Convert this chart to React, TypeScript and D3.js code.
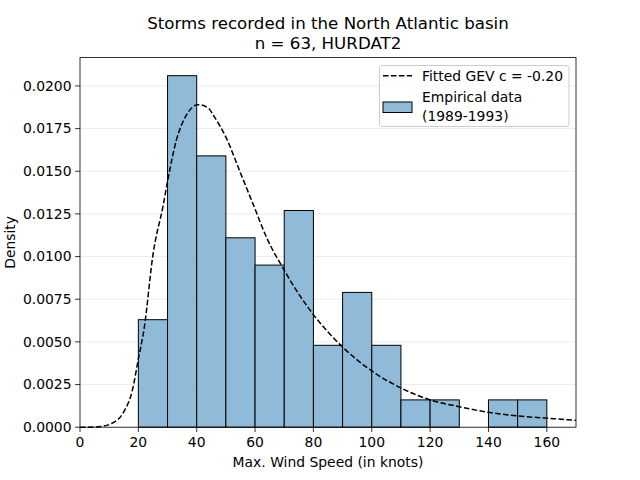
import React from 'react';
import * as d3 from 'd3';

// histogram bins (left edges, knots) and density per bin
const binStarts = [20, 30, 40, 50, 60, 70, 80, 90, 100, 110, 120, 130, 140, 150];
const binWidth = 10;
const densities = [0.0063, 0.0206, 0.0159, 0.0111, 0.0095, 0.0127, 0.0048, 0.0079, 0.0048, 0.0016, 0.0016, 0, 0.0016, 0.0016];

// fitted GEV curve
const curveX = [0, 5, 7, 11, 15, 18, 20, 22, 25, 28.5, 30, 33, 36.5, 40.5, 44, 46, 50, 55, 59.5, 64, 70, 75, 80, 90, 100, 110, 120, 130, 140, 150, 160, 170];
const curveY = [0, 0.00001, 0.00004, 0.00023, 0.0009, 0.0022, 0.004, 0.0058, 0.0101, 0.013, 0.0144, 0.0168, 0.0183, 0.0189, 0.0187, 0.0182, 0.017, 0.0149, 0.013, 0.0111, 0.0092, 0.0078, 0.0066, 0.0047, 0.0033, 0.0023, 0.0016, 0.0012, 0.00087, 0.00066, 0.00053, 0.0004];

const xTicks = [0, 20, 40, 60, 80, 100, 120, 140, 160];
const yTicks = [0, 0.0025, 0.005, 0.0075, 0.01, 0.0125, 0.015, 0.0175, 0.02];

const titleLines = ['Storms recorded in the North Atlantic basin', 'n = 63, HURDAT2'];
const legendLabels = ['Fitted GEV c = -0.20', 'Empirical data', '(1989-1993)'];

export default function App() {
  const width = 640;
  const height = 480;
  const left = 80;
  const right = 576;
  const top = 57.6;
  const bottom = 427.2;

  const x = d3.scaleLinear().domain([0, 170]).range([left, right]);
  const y = d3.scaleLinear().domain([0, 0.02166]).range([bottom, top]);
  const fmt = d3.format('.4f');

  const pts = curveX.map((v, i) => [v, curveY[i]] as [number, number]);
  const line = d3.line<[number, number]>()
    .x(d => x(d[0]))
    .y(d => y(d[1]))
    .curve(d3.curveMonotoneX);

  const font = '"DejaVu Sans", sans-serif';

  return (
    <svg width={width} height={height} style={{ position: 'absolute', left: 0, top: 0, fontFamily: font }}>
      <rect width={width} height={height} fill="white" />

      <text textAnchor="middle" fontSize={16.67} fill="#000">
        <tspan x={328} y={28.5}>{titleLines[0]}</tspan>
        <tspan x={328} y={49}>{titleLines[1]}</tspan>
      </text>

      {/* grid */}
      <g stroke="#e6e6e6" strokeWidth={0.8}>
        {yTicks.map(t => (
          <line key={t} x1={left} x2={right} y1={y(t)} y2={y(t)} />
        ))}
      </g>

      {/* bars */}
      <g fill="#8fbbd9" stroke="#000" strokeWidth={1}>
        {binStarts.map((b, i) => densities[i] > 0 && (
          <rect key={b} x={x(b)} y={y(densities[i])} width={x(b + binWidth) - x(b)} height={y(0) - y(densities[i])} />
        ))}
      </g>

      {/* fitted curve */}
      <path d={line(pts) || ''} fill="none" stroke="#000" strokeWidth={1.5} strokeDasharray="5.55,2.4" />

      {/* spines */}
      <rect x={left} y={top} width={right - left} height={bottom - top} fill="none" stroke="#000" strokeWidth={0.8} />

      {/* x axis */}
      <g fontSize={13.9} textAnchor="middle" fill="#000">
        {xTicks.map(t => (
          <g key={t}>
            <line x1={x(t)} x2={x(t)} y1={bottom} y2={bottom + 4.86} stroke="#000" strokeWidth={0.8} />
            <text x={x(t)} y={bottom + 19.5}>{t}</text>
          </g>
        ))}
      </g>
      <text x={(left + right) / 2} y={466.5} textAnchor="middle" fontSize={13.9}>Max. Wind Speed (in knots)</text>

      {/* y axis */}
      <g fontSize={13.9} textAnchor="end" fill="#000">
        {yTicks.map(t => (
          <g key={t}>
            <line x1={left - 4.86} x2={left} y1={y(t)} y2={y(t)} stroke="#000" strokeWidth={0.8} />
            <text x={left - 8.5} y={y(t)} dy="0.35em">{fmt(t)}</text>
          </g>
        ))}
      </g>
      <text transform={`translate(15,${(top + bottom) / 2}) rotate(-90)`} textAnchor="middle" fontSize={13.9}>Density</text>

      {/* legend */}
      <rect x={379.5} y={65.5} width={189.5} height={61} rx={3} fill="white" fillOpacity={0.8} stroke="#cccccc" strokeWidth={1} />
      <line x1={383} x2={412} y1={75.7} y2={75.7} stroke="#000" strokeWidth={1.5} strokeDasharray="5.55,2.4" />
      <rect x={383} y={102} width={29} height={10.5} fill="#8fbbd9" stroke="#000" strokeWidth={1} />
      <g fontSize={13.9}>
        <text x={422} y={75.7} dy="0.35em">{legendLabels[0]}</text>
        <text x={422} y={96.8} dy="0.35em">{legendLabels[1]}</text>
        <text x={422} y={116.5} dy="0.35em">{legendLabels[2]}</text>
      </g>
    </svg>
  );
}
